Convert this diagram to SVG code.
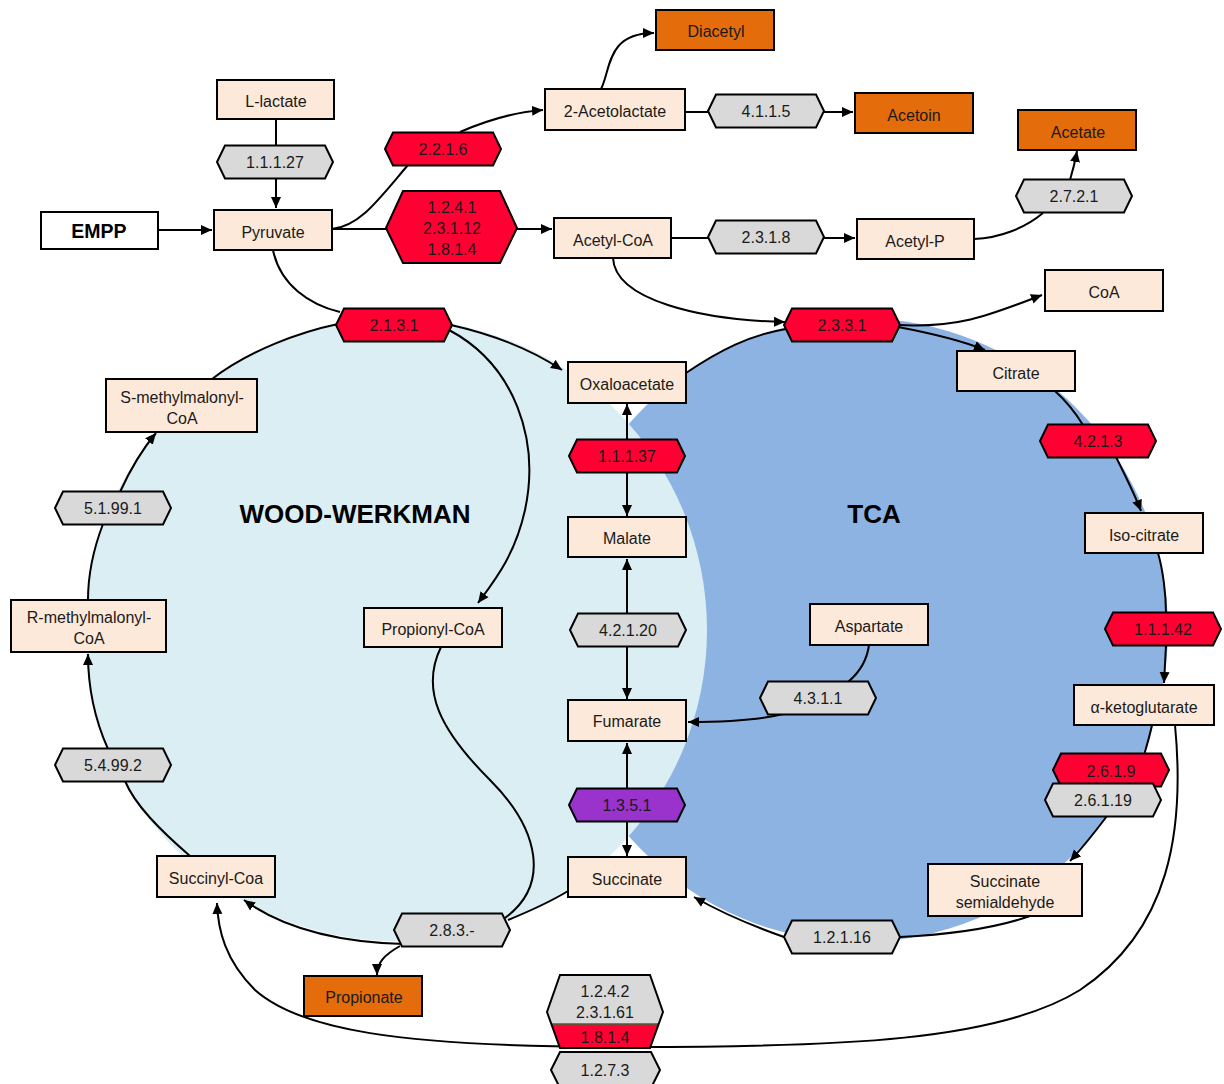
<svg xmlns="http://www.w3.org/2000/svg" xmlns:xlink="http://www.w3.org/1999/xlink" width="1224" height="1084" viewBox="0 0 1224 1084">
<style>
.n{fill:#FDE9D9;stroke:#000;stroke-width:2}
.w{fill:#FFFFFF;stroke:#000;stroke-width:2}
.o{fill:#E46C0A;stroke:#000;stroke-width:2}
.g{fill:#D9D9D9;stroke:#000;stroke-width:2}
.r{fill:#FF0033;stroke:#000;stroke-width:2}
.p{fill:#9933CC;stroke:#000;stroke-width:2}
.t{font-family:"Liberation Sans",Arial,sans-serif;font-size:16px;text-anchor:middle;dominant-baseline:central;fill:#1a1a1a}
.b{font-weight:bold;fill:#000}
.c{fill:none;stroke:#000;stroke-width:2}
.a{marker-end:url(#ar)}
</style>
<defs>
<marker id="ar" markerUnits="userSpaceOnUse" markerWidth="12" markerHeight="12" viewBox="0 0 12 12" refX="11" refY="6" orient="auto">
<path d="M0,1 L11,6 L0,11 z" fill="#000"/>
</marker>
<polygon id="hx" points="-58,0 -50,-16.5 50,-16.5 58,0 50,16.5 -50,16.5"/>
</defs>
<rect width="1224" height="1084" fill="#fff"/>
<g id="cycles">
<ellipse cx="860" cy="630" rx="308" ry="312" fill="#8DB3E2"/>
<circle cx="396" cy="630" r="311" fill="#DAEEF3"/>
<text class="t b" x="355" y="514" style="font-size:26px">WOOD-WERKMAN</text>
<text class="t b" x="874" y="514" style="font-size:26px">TCA</text>
</g>
<g id="connectors">
<path class="c" d="M276,119 L276,145"/>
<path class="c a" d="M276,179 L276,208"/>
<path class="c a" d="M158,230 L212,230"/>
<path class="c" d="M332,229 C360,226 378,200 408,165"/>
<path class="c a" d="M460,132 C490,119 515,112 543,110"/>
<path class="c" d="M332,229 L386,229"/>
<path class="c a" d="M517,229 L552,229"/>
<path class="c a" d="M601,89 C611,70 606,33 654,33"/>
<path class="c" d="M685,112 L708,112"/>
<path class="c a" d="M824,112 L853,112"/>
<path class="c" d="M671,238 L708,238"/>
<path class="c a" d="M824,238 L855,238"/>
<path class="c" d="M974,239 C1000,238 1025,228 1043,213"/>
<path class="c a" d="M1070,180 C1073,170 1075,162 1077,151"/>
<path class="c" d="M273,250 C280,285 310,305 340,312"/>
<path class="c a" d="M451,325 C495,335 532,350 562,370"/>
<path class="c a" d="M449,330 C515,365 540,440 525,510 C515,555 495,580 478,603"/>
<path class="c" d="M441,647 C420,690 440,730 490,780 C540,830 550,885 505,918"/>
<path class="c" d="M568,891 C550,902 530,911 508,920"/>
<path class="c a" d="M404,944 C330,942 280,926 244,900"/>
<path class="c a" d="M400,946 C384,955 377,963 377,975"/>
<path class="c" d="M190,856 C160,830 135,805 125,781"/>
<path class="c a" d="M108,749 C95,720 88,690 88,654"/>
<path class="c" d="M88,600 C88,570 95,545 103,524"/>
<path class="c a" d="M120,492 C130,470 140,452 156,433"/>
<path class="c" d="M212,379 C250,350 300,332 338,324"/>
<path class="c a" d="M613,258 C615,300 700,320 785,322"/>
<path class="c a" d="M898,325 C960,328 990,315 1042,295"/>
<path class="c a" d="M898,327 C930,333 960,340 985,350"/>
<path class="c" d="M686,373 C720,350 750,335 786,329"/>
<path class="c" d="M1055,391 C1065,400 1075,412 1083,425"/>
<path class="c a" d="M1116,457 C1125,475 1135,495 1141,511"/>
<path class="c" d="M1158,553 C1163,570 1166,595 1166,613"/>
<path class="c a" d="M1166,645 L1164,683"/>
<path class="c" d="M1152,725 C1150,735 1147,745 1144,755"/>
<path class="c a" d="M1107,816 C1095,832 1085,845 1070,861"/>
<path class="c a" d="M1175,725 C1185,830 1170,930 1080,990 C1000,1040 850,1048 605,1047 C400,1046 300,1030 255,990 C225,960 218,930 217,903"/>
<path class="c" d="M1030,916 C990,930 940,935 900,937"/>
<path class="c a" d="M784,937 C750,925 720,912 694,897"/>
<path class="c" d="M869,645 C867,660 860,672 848,682"/>
<path class="c a" d="M783,714 C760,720 730,722 688,722"/>
<path class="c a" d="M627,440 L627,404"/>
<path class="c a" d="M627,472 L627,516"/>
<path class="c a" d="M627,614 L627,559"/>
<path class="c a" d="M627,646 L627,699"/>
<path class="c a" d="M627,789 L627,743"/>
<path class="c a" d="M627,821 L627,856"/>
</g>
<g id="n-llactate"><rect class="n" x="217" y="80" width="117" height="39"/><text class="t" x="276" y="101">L-lactate</text></g>
<g id="n-empp"><rect class="w" x="41" y="212" width="117" height="37"/><text class="t b" x="99" y="231" style="font-size:19.5px">EMPP</text></g>
<g id="n-pyruvate"><rect class="n" x="214" y="210" width="118" height="40"/><text class="t" x="273" y="232">Pyruvate</text></g>
<g id="n-acetolactate"><rect class="n" x="545" y="89" width="140" height="41"/><text class="t" x="615" y="111">2-Acetolactate</text></g>
<g id="n-diacetyl"><rect class="o" x="656" y="10" width="118" height="40"/><text class="t" x="716" y="31">Diacetyl</text></g>
<g id="n-acetoin"><rect class="o" x="855" y="93" width="118" height="40"/><text class="t" x="914" y="115">Acetoin</text></g>
<g id="n-acetate"><rect class="o" x="1018" y="110" width="118" height="40"/><text class="t" x="1078" y="132">Acetate</text></g>
<g id="n-acetylcoa"><rect class="n" x="554" y="218" width="117" height="40"/><text class="t" x="613" y="240">Acetyl-CoA</text></g>
<g id="n-acetylp"><rect class="n" x="857" y="219" width="117" height="40"/><text class="t" x="915" y="241">Acetyl-P</text></g>
<g id="n-coa"><rect class="n" x="1045" y="270" width="118" height="41"/><text class="t" x="1104" y="292">CoA</text></g>
<g id="n-citrate"><rect class="n" x="957" y="351" width="118" height="40"/><text class="t" x="1016" y="373">Citrate</text></g>
<g id="n-oxaloacetate"><rect class="n" x="568" y="362" width="118" height="41"/><text class="t" x="627" y="384">Oxaloacetate</text></g>
<g id="n-smethyl"><rect class="n" x="106" y="379" width="151" height="53"/><text class="t" x="182" y="397">S-methylmalonyl-</text><text class="t" x="182" y="418">CoA</text></g>
<g id="n-malate"><rect class="n" x="568" y="517" width="118" height="40"/><text class="t" x="627" y="538">Malate</text></g>
<g id="n-propionylcoa"><rect class="n" x="364" y="608" width="138" height="39"/><text class="t" x="433" y="629">Propionyl-CoA</text></g>
<g id="n-aspartate"><rect class="n" x="810" y="604" width="118" height="41"/><text class="t" x="869" y="626">Aspartate</text></g>
<g id="n-rmethyl"><rect class="n" x="11" y="600" width="155" height="52"/><text class="t" x="89" y="617">R-methylmalonyl-</text><text class="t" x="89" y="638">CoA</text></g>
<g id="n-isocitrate"><rect class="n" x="1085" y="513" width="118" height="40"/><text class="t" x="1144" y="535">Iso-citrate</text></g>
<g id="n-fumarate"><rect class="n" x="568" y="700" width="118" height="41"/><text class="t" x="627" y="721">Fumarate</text></g>
<g id="n-akg"><rect class="n" x="1074" y="685" width="140" height="40"/><text class="t" x="1144" y="707">α-ketoglutarate</text></g>
<g id="n-succinate"><rect class="n" x="568" y="857" width="118" height="40"/><text class="t" x="627" y="879">Succinate</text></g>
<g id="n-succinylcoa"><rect class="n" x="157" y="856" width="118" height="41"/><text class="t" x="216" y="878">Succinyl-Coa</text></g>
<g id="n-ssa"><rect class="n" x="928" y="864" width="154" height="52"/><text class="t" x="1005" y="881">Succinate</text><text class="t" x="1005" y="902">semialdehyde</text></g>
<g id="n-propionate"><rect class="o" x="304" y="976" width="118" height="40"/><text class="t" x="364" y="997">Propionate</text></g>
<g id="e-11127"><use href="#hx" class="g" x="275" y="162"/><text class="t" x="275" y="162">1.1.1.27</text></g>
<g id="e-2216"><use href="#hx" class="r" x="443" y="149"/><text class="t" x="443" y="149">2.2.1.6</text></g>
<g id="e-pdh"><polygon class="r" points="386,228 403,191 500,191 517,228 500,263 403,263"/><text class="t" x="452" y="207">1.2.4.1</text><text class="t" x="452" y="228">2.3.1.12</text><text class="t" x="452" y="249">1.8.1.4</text></g>
<g id="e-4115"><use href="#hx" class="g" x="766" y="111"/><text class="t" x="766" y="111">4.1.1.5</text></g>
<g id="e-2318"><use href="#hx" class="g" x="766" y="237"/><text class="t" x="766" y="237">2.3.1.8</text></g>
<g id="e-2721"><use href="#hx" class="g" x="1074" y="196"/><text class="t" x="1074" y="196">2.7.2.1</text></g>
<g id="e-2131"><use href="#hx" class="r" x="394" y="325"/><text class="t" x="394" y="325">2.1.3.1</text></g>
<g id="e-2331"><use href="#hx" class="r" x="842" y="325"/><text class="t" x="842" y="325">2.3.3.1</text></g>
<g id="e-11137"><use href="#hx" class="r" x="627" y="456"/><text class="t" x="627" y="456">1.1.1.37</text></g>
<g id="e-4213"><use href="#hx" class="r" x="1098" y="441"/><text class="t" x="1098" y="441">4.2.1.3</text></g>
<g id="e-51991"><use href="#hx" class="g" x="113" y="508"/><text class="t" x="113" y="508">5.1.99.1</text></g>
<g id="e-42120"><use href="#hx" class="g" x="628" y="630"/><text class="t" x="628" y="630">4.2.1.20</text></g>
<g id="e-11142"><use href="#hx" class="r" x="1163" y="629"/><text class="t" x="1163" y="629">1.1.1.42</text></g>
<g id="e-4311"><use href="#hx" class="g" x="818" y="698"/><text class="t" x="818" y="698">4.3.1.1</text></g>
<g id="e-54992"><use href="#hx" class="g" x="113" y="765"/><text class="t" x="113" y="765">5.4.99.2</text></g>
<g id="e-2619"><use href="#hx" class="r" x="1111" y="770"/><text class="t" x="1111" y="771">2.6.1.9</text></g>
<g id="e-26119"><use href="#hx" class="g" x="1103" y="800"/><text class="t" x="1103" y="800">2.6.1.19</text></g>
<g id="e-1351"><use href="#hx" class="p" x="627" y="805"/><text class="t" x="627" y="805">1.3.5.1</text></g>
<g id="e-283"><use href="#hx" class="g" x="452" y="930"/><text class="t" x="452" y="930">2.8.3.-</text></g>
<g id="e-12116"><use href="#hx" class="g" x="842" y="937"/><text class="t" x="842" y="937">1.2.1.16</text></g>
<g id="e-ogdh">
<polygon points="560,975 650,975 663,1012 658.7,1024 551.3,1024 547,1012" fill="#D9D9D9"/>
<polygon points="551.3,1024 658.7,1024 650,1048 560,1048" fill="#FF0033"/>
<line x1="551.3" y1="1024" x2="658.7" y2="1024" stroke="#2E6B3E" stroke-width="1.5"/>
<polygon points="560,975 650,975 663,1012 650,1048 560,1048 547,1012" fill="none" stroke="#000" stroke-width="2"/>
<text class="t" x="605" y="991">1.2.4.2</text><text class="t" x="605" y="1012">2.3.1.61</text><text class="t" x="605" y="1037">1.8.1.4</text>
</g>
<g id="e-1273"><polygon class="g" points="551,1070 560,1052 651,1052 660,1070 651,1088 560,1088"/><text class="t" x="605" y="1070">1.2.7.3</text></g>
</svg>
